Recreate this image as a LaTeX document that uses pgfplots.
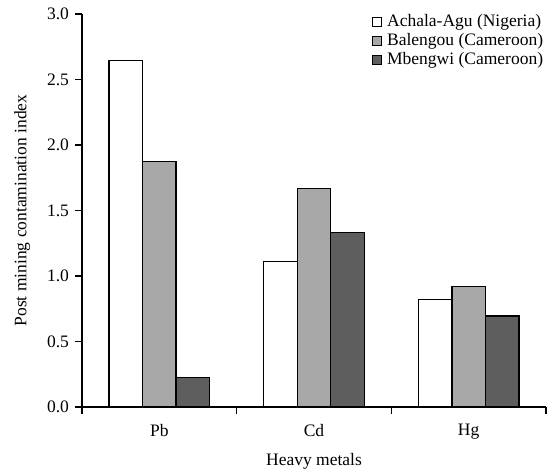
\documentclass[border=0pt]{standalone}
\usepackage{fontspec}
\setmainfont{Liberation Serif}
\usepackage{pgfplots}
\pgfplotsset{compat=1.18}
\definecolor{lightbar}{HTML}{A8A8A8}
\definecolor{darkbar}{HTML}{5E5E5E}
\begin{document}
\fontsize{17.5bp}{20bp}\selectfont
\begin{tikzpicture}
\useasboundingbox (0,0) rectangle (554bp,471bp);
\begin{axis}[
  at={(82bp,64bp)}, anchor=south west,
  scale only axis, width=464bp, height=393bp,
  xmin=-0.5, xmax=2.5, ymin=0, ymax=3,
  axis x line=bottom, axis y line=left,
  axis line style={-, line width=1.2pt},
  tick style={line width=1.2pt, black},
  ybar=0pt, bar width=0.2167,
  xtick={-0.5,0.5,1.5,2.5}, xticklabels={},
  major tick length=7bp,
  xtick pos=bottom, xtick align=outside,
  ytick={0,0.5,...,3.0}, ytick align=outside, ytick pos=left,
  yticklabel style={/pgf/number format/fixed, /pgf/number format/fixed zerofill, /pgf/number format/precision=1},
  /pgf/number format/assume math mode=true,
  extra x ticks={0,1,2}, extra x tick labels={Pb,Cd,Hg},
  extra x tick style={major tick length=0pt, tick style={draw=none}, xticklabel style={yshift=-11bp}},
  xlabel={Heavy metals},
  ylabel={Post mining contamination index},
  xlabel style={at={(axis description cs:0.5,-0.138)}, anchor=center},
  ylabel style={at={(axis description cs:-0.129,0.5)}, anchor=center},
  legend style={at={(rel axis cs:1.005,1.01)}, anchor=north east, draw=none, fill=none, font=\fontsize{17.5bp}{20bp}\selectfont, row sep=0.5bp, /tikz/every odd column/.append style={column sep=3bp}},
  legend cell align=left,
  legend image code/.code={\draw[#1, line width=1.2pt] (0bp,-4.5bp) rectangle (9bp,4.5bp);},
]
\addplot[draw=black, line width=1.2pt, fill=white] coordinates {(0,2.647) (1,1.112) (2,0.822)};
\addplot[draw=black, line width=1.2pt, fill=lightbar] coordinates {(0,1.873) (1,1.665) (2,0.918)};
\addplot[draw=black, line width=1.2pt, fill=darkbar] coordinates {(0,0.224) (1,1.333) (2,0.695)};
\legend{Achala-Agu (Nigeria), Balengou (Cameroon), Mbengwi (Cameroon)}
\end{axis}
\end{tikzpicture}
\end{document}
